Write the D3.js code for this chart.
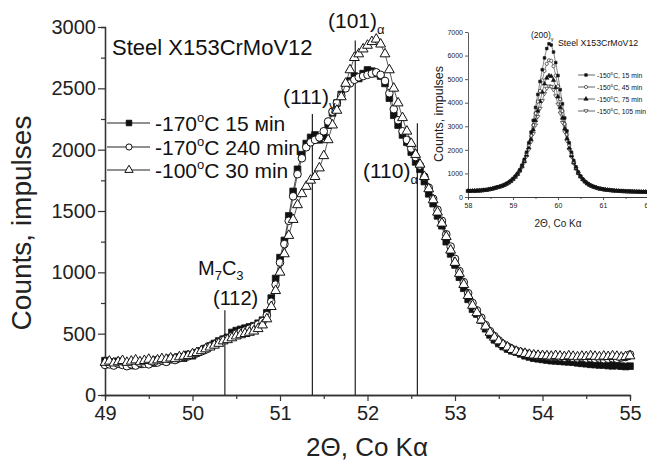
<!DOCTYPE html>
<html>
<head>
<meta charset="utf-8">
<script src="https://cdn.jsdelivr.net/npm/d3@7"></script>
<style>
  body { margin: 0; background: #fff; }
  svg { display: block; font-family: "Liberation Sans", Arial, sans-serif; }
</style>
</head>
<body>
<div id="content"></div>
<script>
// Set up canvas
var width = 647, height = 463;

// ---- main pattern: 2theta (deg) and counts ----
var angleMain = [49.00,49.05,49.10,49.15,49.20,49.25,49.30,49.35,49.40,49.45,49.50,49.55,49.60,49.65,49.70,49.75,49.80,49.85,49.90,49.95,
  50.00,50.05,50.10,50.15,50.20,50.25,50.30,50.35,50.40,50.45,50.50,50.55,50.60,50.65,50.70,50.75,50.80,50.85,50.90,50.95,
  51.00,51.05,51.10,51.15,51.20,51.25,51.30,51.35,51.40,51.45,51.50,51.55,51.60,51.65,51.70,51.75,51.80,51.85,51.90,51.95,
  52.00,52.05,52.10,52.15,52.20,52.25,52.30,52.35,52.40,52.45,52.50,52.55,52.60,52.65,52.70,52.75,52.80,52.85,52.90,52.95,
  53.00,53.05,53.10,53.15,53.20,53.25,53.30,53.35,53.40,53.45,53.50,53.55,53.60,53.65,53.70,53.75,53.80,53.85,53.90,53.95,
  54.00,54.05,54.10,54.15,54.20,54.25,54.30,54.35,54.40,54.45,54.50,54.55,54.60,54.65,54.70,54.75,54.80,54.85,54.90,54.95,55.00];

// -170C 15 min (filled squares)
var counts170_15 = [280,270,265,275,250,260,240,255,250,265,270,260,285,280,275,300,290,310,300,330,
  320,345,360,380,400,420,440,455,470,510,525,535,545,555,565,585,610,670,790,950,
  1120,1260,1460,1660,1840,1960,2050,2100,2120,2080,2110,2200,2300,2380,2450,2520,2560,2600,2580,2620,
  2650,2640,2620,2600,2540,2420,2280,2200,2120,2060,1980,1900,1840,1740,1640,1560,1460,1380,1250,1150,
  1060,960,870,780,700,660,610,540,490,450,420,395,375,360,350,335,320,310,300,295,
  290,285,280,278,275,272,270,268,262,258,255,250,248,245,245,240,238,240,235,232,235];

// -170C 240 min (open circles)
var counts170_240 = [245,250,240,255,245,235,250,240,260,255,250,270,265,280,270,290,285,300,310,315,
  330,340,355,370,395,410,430,450,460,480,500,515,525,540,555,575,600,650,760,900,
  1080,1230,1420,1620,1800,1930,2020,2060,2080,2100,2150,2230,2310,2380,2440,2500,2540,2570,2590,2600,
  2610,2620,2630,2610,2560,2460,2330,2240,2150,2080,2010,1940,1870,1780,1690,1600,1510,1420,1310,1210,
  1110,1010,920,830,750,690,630,570,520,480,445,415,395,375,360,350,340,330,325,320,
  318,315,310,312,308,305,310,302,300,305,298,300,295,298,292,296,300,295,305,310,330];

// -100C 30 min (open triangles)
var counts100_30 = [265,275,260,270,280,265,275,285,270,280,290,275,285,295,290,300,295,310,315,320,
  335,345,360,375,390,405,420,440,450,465,480,490,500,510,520,540,570,620,720,850,
  1000,1150,1300,1430,1550,1640,1700,1750,1780,1850,1950,2080,2200,2320,2430,2540,2650,2750,2780,2820,
  2850,2880,2900,2860,2780,2650,2500,2380,2260,2150,2050,1960,1880,1780,1680,1590,1490,1400,1290,1180,
  1080,990,900,810,730,670,610,560,510,470,440,410,390,370,355,345,338,330,325,322,
  320,318,315,320,316,312,318,314,310,315,312,318,314,310,316,312,318,314,308,312,318];

// phase markers: angle, top of the line (counts)
var peakAngles = [50.37, 51.37, 51.86, 52.57];
var peakTops = [690, 2290, 2890, 2215];

var legendNames = ["-170", "-170", "-100"];
var legendTimes = [" 15 \u043cin", " 240 min", " 30 min"];

// ---- inset: (200) peak ----
var angleInset = [58.00,58.05,58.10,58.15,58.20,58.25,58.30,58.35,58.40,58.45,58.50,58.55,58.60,58.65,58.70,58.75,58.80,58.85,58.90,58.95,
  59.00,59.05,59.10,59.15,59.20,59.25,59.30,59.35,59.40,59.45,59.50,59.55,59.60,59.65,59.70,59.75,59.80,59.85,59.90,59.95,
  60.00,60.05,60.10,60.15,60.20,60.25,60.30,60.35,60.40,60.45,60.50,60.55,60.60,60.65,60.70,60.75,60.80,60.85,60.90,60.95,
  61.00,61.05,61.10,61.15,61.20,61.25,61.30,61.35,61.40,61.45,61.50,61.55,61.60,61.65,61.70,61.75,61.80,61.85,61.90,61.95,62.00];

var inset15 = [260,250,265,255,270,265,280,290,300,320,340,360,390,420,440,470,510,560,620,690,
  780,880,1000,1150,1350,1600,1900,2300,2750,3250,3800,4350,4900,5400,5900,6300,6500,6450,6150,5700,
  5150,4550,3950,3350,2800,2300,1900,1550,1280,1060,890,760,660,580,520,470,430,400,370,350,
  330,315,300,290,280,270,265,255,250,245,240,238,235,230,228,225,222,220,218,215,215];
var inset45 = [250,255,250,260,265,270,275,285,300,315,335,355,385,410,435,465,505,550,610,680,
  770,870,990,1140,1330,1560,1850,2200,2600,3050,3550,4050,4500,4950,5350,5650,5800,5780,5550,5150,
  4700,4150,3650,3100,2650,2200,1830,1500,1250,1040,880,750,650,575,515,465,425,395,365,345,
  325,310,298,288,278,268,262,255,248,244,240,236,232,230,226,224,220,218,216,215,212];
var inset75 = [255,250,258,262,268,272,280,288,298,312,330,350,378,405,430,460,500,545,600,665,
  750,850,965,1110,1290,1510,1780,2100,2450,2850,3250,3650,4050,4450,4800,5050,5150,5120,4950,4650,
  4250,3800,3350,2900,2480,2080,1750,1450,1210,1010,860,740,645,570,510,460,420,390,362,342,
  322,308,296,286,276,268,260,254,248,243,238,235,232,228,225,222,220,218,215,214,212];
var inset105 = [250,255,252,258,262,268,276,285,295,308,325,345,370,398,425,455,495,540,595,660,
  740,835,945,1085,1255,1460,1710,2000,2330,2680,3040,3400,3750,4080,4380,4600,4700,4680,4540,4280,
  3930,3550,3150,2750,2370,2010,1700,1420,1190,1000,850,735,640,565,505,457,418,388,360,340,
  320,306,294,284,275,267,259,253,247,242,238,234,231,228,225,222,219,217,215,213,211];

var insetTimes = ["15", "45", "75", "105"];

var svg = d3.select("#content")
    .append("svg")
    .attr("width", width)
    .attr("height", height);

// scales
var xscale = d3.scaleLinear().domain([49, 55]).range([105, 630]);
var yscale = d3.scaleLinear().domain([0, 3000]).range([395, 27]);

// axes (major + minor)
function styleAxis(g, fs) {
    g.selectAll("path.domain").attr("stroke", "#333").attr("stroke-width", 1.3);
    g.selectAll(".tick line").attr("stroke", "#333").attr("stroke-width", 1.2);
    g.selectAll("text").attr("fill", "#222").style("font-size", fs + "px");
}

svg.append("g")
    .attr("transform", "translate(0,395)")
    .call(d3.axisBottom(xscale).tickValues([49.5, 50.5, 51.5, 52.5, 53.5, 54.5]).tickSize(4).tickFormat(""))
    .call(styleAxis, 20);
svg.append("g")
    .attr("transform", "translate(0,395)")
    .call(d3.axisBottom(xscale).tickValues([49, 50, 51, 52, 53, 54, 55]).tickSize(6).tickSizeOuter(0).tickPadding(5).tickFormat(d3.format("d")))
    .call(styleAxis, 20);

svg.append("g")
    .attr("transform", "translate(105,0)")
    .call(d3.axisLeft(yscale).tickValues([250, 750, 1250, 1750, 2250, 2750]).tickSize(4).tickFormat(""))
    .call(styleAxis, 20);
svg.append("g")
    .attr("transform", "translate(105,0)")
    .call(d3.axisLeft(yscale).tickValues([0, 500, 1000, 1500, 2000, 2500, 3000]).tickSize(7).tickSizeOuter(0).tickPadding(2).tickFormat(d3.format("d")))
    .call(styleAxis, 20);

// axis titles
svg.append("text")
    .attr("transform", "translate(31,223) rotate(-90)")
    .attr("text-anchor", "middle")
    .style("font-size", "28px")
    .attr("fill", "#222")
    .text("Counts, impulses");
svg.append("text")
    .attr("x", 367).attr("y", 456)
    .attr("text-anchor", "middle")
    .style("font-size", "26px")
    .attr("fill", "#222")
    .text("2\u0398, Co K\u03b1");

// phase lines
svg.selectAll("line.phase")
    .data(peakAngles)
    .enter().append("line")
    .attr("class", "phase")
    .attr("x1", function(d) { return xscale(d); })
    .attr("x2", function(d) { return xscale(d); })
    .attr("y1", yscale(0))
    .attr("y2", function(d, i) { return yscale(peakTops[i]); })
    .attr("stroke", "#222")
    .attr("stroke-width", 1.2);

// markers
var symSquare = d3.symbol().type(d3.symbolSquare).size(44);
var symCircle = d3.symbol().type(d3.symbolCircle).size(46);
var symTri = d3.symbol().type(d3.symbolTriangle).size(42);

function drawSeries(g, xs, ys, sx, sy, sym, fill, sw) {
    g.append("path")
        .datum(ys)
        .attr("class", "conn")
        .attr("fill", "none")
        .attr("stroke", "#111")
        .attr("stroke-width", 0.7)
        .attr("d", d3.line().x(function(d, i) { return sx(xs[i]); }).y(function(d) { return sy(d); }));
    g.selectAll("path.pt")
        .data(ys)
        .enter().append("path")
        .attr("class", "pt")
        .attr("d", sym)
        .attr("transform", function(d, i) { return "translate(" + sx(xs[i]) + "," + sy(d) + ")"; })
        .attr("fill", fill)
        .attr("stroke", "#111")
        .attr("stroke-width", sw);
}

drawSeries(svg.append("g"), angleMain, counts170_15, xscale, yscale, symSquare, "#111", 0.8);
drawSeries(svg.append("g"), angleMain, counts170_240, xscale, yscale, symCircle, "#fff", 1);
drawSeries(svg.append("g"), angleMain, counts100_30, xscale, yscale, symTri, "#fff", 1);

// labels
svg.append("text").attr("x", 112).attr("y", 55).style("font-size", "22px").attr("fill", "#111")
    .text("Steel X153CrMoV12");

function subLabel(x, y, main, sub, fs) {
    var t = svg.append("text").attr("x", x).attr("y", y).style("font-size", fs + "px").attr("fill", "#111");
    t.append("tspan").text(main);
    t.append("tspan").attr("dy", 6).style("font-size", (fs * 0.62) + "px").text(sub);
    return t;
}
var m7 = svg.append("text").attr("x", 198).attr("y", 275).style("font-size", "20px").attr("fill", "#111");
m7.append("tspan").text("M");
m7.append("tspan").attr("dy", 5).style("font-size", "13px").text("7");
m7.append("tspan").attr("dy", -5).text("C");
m7.append("tspan").attr("dy", 5).style("font-size", "13px").text("3");
svg.append("text").attr("x", 213).attr("y", 305).style("font-size", "20px").attr("fill", "#111").text("(112)");
subLabel(283, 104, "(111)", "\u03b3", 21);
subLabel(328, 28, "(101)", "\u03b1", 21);
subLabel(363, 178, "(110)", "\u03b1", 21);

// legend
var legFills = ["#111", "#fff", "#fff"];
var legRowY = [123, 147, 170];
legendNames.forEach(function(name, i) {
    var y0 = legRowY[i];
    svg.append("line").attr("x1", 107).attr("x2", 150).attr("y1", y0).attr("y2", y0)
        .attr("stroke", "#222").attr("stroke-width", 1);
    svg.append("path").attr("d", d3.symbol().type([d3.symbolSquare, d3.symbolCircle, d3.symbolTriangle][i]).size(30))
        .attr("transform", "translate(129," + y0 + ")")
        .attr("fill", legFills[i]).attr("stroke", "#111").attr("stroke-width", 1);
    var t = svg.append("text").attr("x", 155).attr("y", y0 + 8).style("font-size", "21px").attr("fill", "#111");
    t.append("tspan").text(name);
    t.append("tspan").attr("dy", -9).style("font-size", "13px").text("o");
    t.append("tspan").attr("dy", 9).text("C" + legendTimes[i]);
});

// ---- inset ----
var ix = d3.scaleLinear().domain([58, 62]).range([468, 648]);
var iy = d3.scaleLinear().domain([0, 7000]).range([197, 32]);
var inset = svg.append("g");

inset.append("g")
    .attr("transform", "translate(0,197)")
    .call(d3.axisBottom(ix).tickValues([58.5, 59.5, 60.5, 61.5]).tickSize(2).tickFormat(""))
    .call(styleAxis, 7);
inset.append("g")
    .attr("transform", "translate(0,197)")
    .call(d3.axisBottom(ix).tickValues([58, 59, 60, 61, 62]).tickSize(3).tickSizeOuter(0).tickPadding(3).tickFormat(d3.format("d")))
    .call(styleAxis, 7);
inset.append("g")
    .attr("transform", "translate(468,0)")
    .call(d3.axisLeft(iy).tickValues([0, 1000, 2000, 3000, 4000, 5000, 6000, 7000]).tickSize(3).tickSizeOuter(0).tickPadding(2).tickFormat(d3.format("d")))
    .call(styleAxis, 7);
inset.selectAll("path.domain, .tick line").attr("stroke-width", 0.8);

inset.append("text")
    .attr("transform", "translate(443,114) rotate(-90)")
    .attr("text-anchor", "middle")
    .style("font-size", "12.5px")
    .attr("fill", "#222")
    .text("Counts, impulses");
inset.append("text")
    .attr("x", 558).attr("y", 227)
    .attr("text-anchor", "middle")
    .style("font-size", "10px")
    .attr("fill", "#222")
    .text("2\u0398, Co K\u03b1");

var iSquare = d3.symbol().type(d3.symbolSquare).size(7);
var iCircle = d3.symbol().type(d3.symbolCircle).size(8);
var iTri = d3.symbol().type(d3.symbolTriangle).size(8);
var iTriDown = d3.symbol().type({
    draw: function(ctx, size) {
        var s = Math.sqrt(size / 0.433) / 2;
        ctx.moveTo(-s, -s * 0.6);
        ctx.lineTo(s, -s * 0.6);
        ctx.lineTo(0, s * 0.9);
        ctx.closePath();
    }
}).size(8);

drawSeries(inset.append("g"), angleInset, inset105, ix, iy, iTriDown, "#fff", 0.6);
drawSeries(inset.append("g"), angleInset, inset75, ix, iy, iTri, "#111", 0.6);
drawSeries(inset.append("g"), angleInset, inset45, ix, iy, iCircle, "#fff", 0.6);
drawSeries(inset.append("g"), angleInset, inset15, ix, iy, iSquare, "#111", 0.6);
inset.selectAll("path.conn").attr("stroke-width", 0.5);

var ti = inset.append("text").attr("x", 531).attr("y", 38).style("font-size", "8.5px").attr("fill", "#111");
ti.append("tspan").text("(200)");
ti.append("tspan").attr("dy", 3).style("font-size", "5.5px").text("\u03b3");
inset.append("text").attr("x", 558).attr("y", 46).style("font-size", "8.8px").attr("fill", "#111")
    .text("Steel X153CrMoV12");

var iSyms = [iSquare, iCircle, iTri, iTriDown];
var iFills = ["#111", "#fff", "#111", "#fff"];
var iRowY = [75, 87, 99, 111];
insetTimes.forEach(function(tm, i) {
    var y0 = iRowY[i];
    inset.append("line").attr("x1", 578).attr("x2", 595).attr("y1", y0).attr("y2", y0)
        .attr("stroke", "#222").attr("stroke-width", 0.7);
    inset.append("path").attr("d", iSyms[i]).attr("transform", "translate(586," + y0 + ")")
        .attr("fill", iFills[i]).attr("stroke", "#111").attr("stroke-width", 0.6);
    var t = inset.append("text").attr("x", 597).attr("y", y0 + 3).style("font-size", "6.8px").attr("fill", "#111");
    t.append("tspan").text("-150");
    t.append("tspan").attr("dy", -3).style("font-size", "4.5px").text("o");
    t.append("tspan").attr("dy", 3).text("C, " + tm + " min");
});
</script>
</body>
</html>
